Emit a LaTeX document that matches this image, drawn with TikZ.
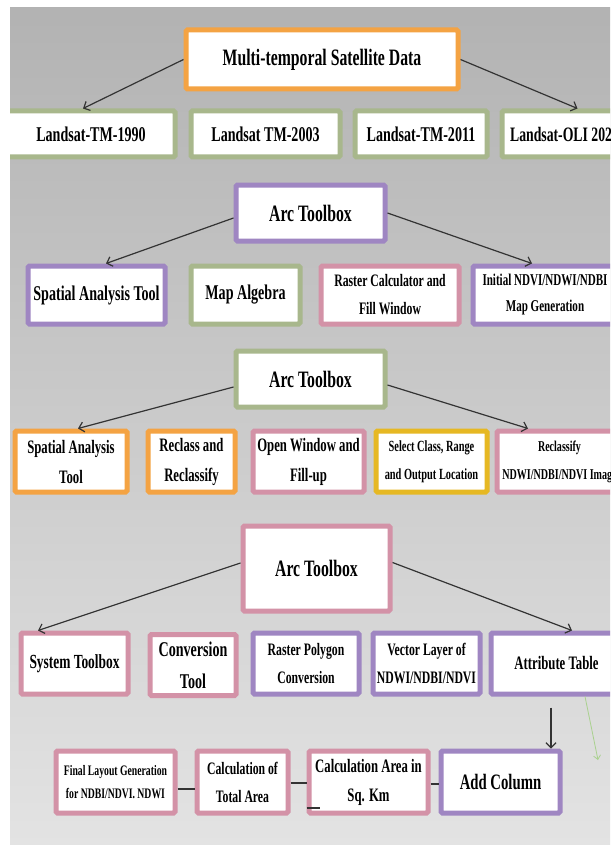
\documentclass[tikz,border=0pt]{standalone}
\usepackage{fontspec}
\setmainfont[FakeStretch=0.67]{Liberation Serif}
\usepackage{tikz}
\usetikzlibrary{arrows.meta}

\definecolor{boxorange}{HTML}{F4A343}
\definecolor{boxgreen}{HTML}{A8B78C}
\definecolor{boxpurple}{HTML}{9F86C2}
\definecolor{boxpink}{HTML}{D392A7}
\definecolor{boxyellow}{HTML}{E6B823}
\definecolor{linegray}{HTML}{333333}
\definecolor{palegreen}{HTML}{A9D18E}

\begin{document}
\begin{tikzpicture}[x=1pt, y=-1pt,
    box/.style={draw, fill=white, line width=5pt, rounded corners=1.5pt,
                align=center, inner sep=1pt},
    orangebox/.style={box, draw=boxorange},
    greenbox/.style={box, draw=boxgreen},
    purplebox/.style={box, draw=boxpurple},
    pinkbox/.style={box, draw=boxpink},
    yellowbox/.style={box, draw=boxyellow},
    boxsize/.style 2 args={minimum width=#1, minimum height=#2},
    fsize/.style 2 args={font=\fontsize{#1}{#2}\selectfont\bfseries},
    link/.style={draw=linegray, line width=1.2pt},
    arrow/.style={link, -{Straight Barb[length=5pt, width=10pt]}}]

  \useasboundingbox (0,0) rectangle (610,845);
  % background
  \shade[top color=gray!60, middle color=gray!36, bottom color=gray!22] (10,8) rectangle (610,845);

  \begin{scope}
    \clip (10,8) rectangle (610,845);

    % satellite data
    \node[orangebox, boxsize={272}{59}, fsize={23.5}{26}] (data) at (322,59.5) {Multi-temporal Satellite Data};
    \node[greenbox, boxsize={168}{46}, fsize={21}{24}] (ls90) at (91,134) {Landsat-TM-1990};
    \node[greenbox, boxsize={149}{46}, fsize={21}{24}] (ls03) at (265.5,134) {Landsat TM-2003};
    \node[greenbox, boxsize={132}{46}, fsize={21}{24}] (ls11) at (421,134) {Landsat-TM-2011};
    \node[greenbox, boxsize={125}{46}, fsize={20.5}{24}] (ls20) at (564.5,134) {Landsat-OLI 2020};

    % first toolbox
    \node[purplebox, boxsize={149}{56}, fsize={23.5}{26}] (tbxa) at (310.5,213) {Arc Toolbox};
    \node[purplebox, boxsize={137}{58}, fsize={21}{24}] (sat) at (96.5,295) {Spatial Analysis Tool};
    \node[greenbox, boxsize={109}{58}, fsize={21}{24}] (alg) at (245.5,295) {Map Algebra};
    \node[pinkbox, boxsize={138}{58}, fsize={17.5}{28}] (calc) at (390,295) {Raster Calculator and\\Fill Window};
    \node[purplebox, boxsize={144}{58}, fsize={16.5}{26}] (ndvimap) at (545,295) {Initial NDVI/NDWI/NDBI\\Map Generation};

    % second toolbox
    \node[greenbox, boxsize={149}{56}, fsize={23.5}{26}] (tbxb) at (310.5,379) {Arc Toolbox};
    \node[orangebox, boxsize={112}{61}, fsize={19}{30}] (sat2) at (71,461.5) {Spatial Analysis\\Tool};
    \node[orangebox, boxsize={87}{61}, fsize={19}{30}] (reclass) at (191.5,461.5) {Reclass and\\Reclassify};
    \node[pinkbox, boxsize={111}{61}, fsize={19}{30}] (fillup) at (308.5,461.5) {Open Window and\\Fill-up};
    \node[yellowbox, boxsize={111}{61}, fsize={15.5}{28}] (range) at (431.5,461.5) {Select Class, Range\\and Output Location};
    \node[pinkbox, boxsize={125}{61}, fsize={15}{28}] (recl) at (559.5,461.5) {Reclassify\\NDWI/NDBI/NDVI Image};

    % third toolbox
    \node[pinkbox, boxsize={147}{85}, fsize={23.5}{26}] (tbxc) at (316.5,568.5) {Arc Toolbox};
    \node[pinkbox, boxsize={107}{61}, fsize={20}{24}] (systb) at (74.5,663.5) {System Toolbox};
    \node[pinkbox, boxsize={86}{61}, fsize={21}{32}] (convt) at (193,665) {Conversion\\Tool};
    \node[purplebox, boxsize={106}{61}, fsize={17.5}{28}] (rpoly) at (306,663.5) {Raster Polygon\\Conversion};
    \node[purplebox, boxsize={107}{61}, fsize={17.5}{28}] (vlayer) at (426.5,663.5) {Vector Layer of\\NDWI/NDBI/NDVI};
    \node[purplebox, boxsize={131}{61}, fsize={19}{24}] (attr) at (556.5,663.5) {Attribute Table};

    % area calculation
    \node[pinkbox, boxsize={119}{62}, fsize={14.5}{23}] (layout) at (115.5,782) {Final Layout Generation\\for NDBI/NDVI. NDWI};
    \node[pinkbox, boxsize={91}{62}, fsize={17.5}{28}] (total) at (242.5,782) {Calculation of\\Total Area};
    \node[pinkbox, boxsize={119}{62}, fsize={19}{29}] (sqkm) at (368.5,782) {Calculation Area in\\Sq. Km};
    \node[purplebox, boxsize={119}{62}, fsize={22}{26}] (addcol) at (500.5,782) {Add Column};

    \draw[arrow] (data.west) -- ([xshift=-8pt]ls90.north);
    \draw[arrow] (data.east) -- ([xshift=13pt]ls20.north);
    \draw[arrow] ([yshift=-5pt]tbxa.west) -- ([xshift=9.5pt]sat.north);
    \draw[arrow] (tbxa.east) -- ([xshift=-13pt]ndvimap.north);
    \draw[arrow] ([yshift=-8pt]tbxb.west) -- ([xshift=7pt]sat2.north);
    \draw[arrow] ([yshift=-6pt]tbxb.east) -- ([xshift=-31.5pt]recl.north);
    \draw[arrow] ([yshift=5.5pt]tbxc.west) -- ([xshift=-36.5pt]systb.north);
    \draw[arrow] ([yshift=6pt]tbxc.east) -- ([xshift=15.5pt]attr.north);
    \draw[arrow] ([xshift=-5.5pt,yshift=-11pt]attr.south) -- ([xshift=-5.5pt]attr.south |- addcol.north);

    \coordinate (greentip) at (598,760);
    \draw[draw=palegreen, line width=0.8pt, -{Straight Barb[length=4pt, width=7pt]}] ([xshift=28.5pt]attr.south) -- (greentip);

    \draw[link] ([yshift=-7pt]layout.east) -- ([yshift=-7pt]total.west);
    \draw[link] ([yshift=-1pt]total.east) -- ([yshift=-1pt]sqkm.west);
    \coordinate (stub) at (320,808);
    \draw[link] ([yshift=-26pt]sqkm.west) -- (stub);
    \draw[link] ([yshift=-2pt]sqkm.east) -- ([yshift=-2pt]addcol.west);
  \end{scope}
\end{tikzpicture}
\end{document}
